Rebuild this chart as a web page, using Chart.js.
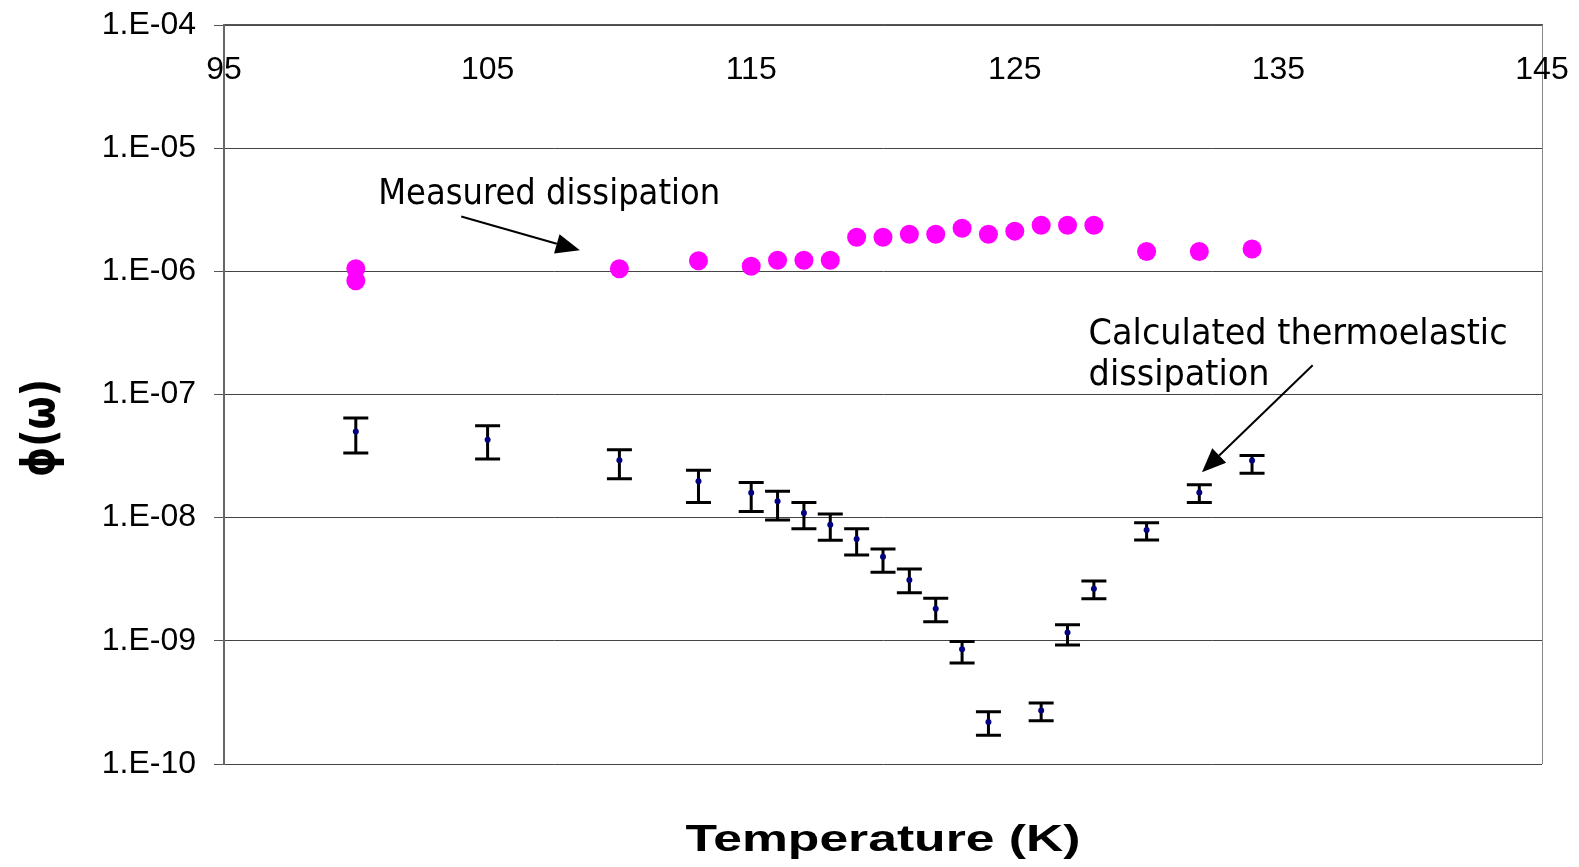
<!DOCTYPE html>
<html lang="en">
<head>
  <meta charset="UTF-8" />
  <title>Dissipation vs Temperature</title>
  <script src="https://cdn.jsdelivr.net/npm/chart.js"></script>
  <style>
    html, body { margin: 0; padding: 0; background: #fff; }
    #wrap { width: 1579px; height: 867px; position: relative; }
  </style>
</head>
<body>
  <div id="wrap"><canvas id="chart"></canvas></div>

  <script>
    // measured dissipation (magenta dots)
    const measuredT   = [100, 100, 110, 113, 115, 116, 117, 118, 119, 120, 121, 122, 123, 124, 125, 126, 127, 128, 130, 132, 134];
    const measuredPhi = [1.05e-6, 8.4e-7, 1.05e-6, 1.22e-6, 1.10e-6, 1.23e-6, 1.23e-6, 1.23e-6, 1.89e-6, 1.89e-6,
                         2.0e-6, 2.0e-6, 2.24e-6, 2.0e-6, 2.12e-6, 2.37e-6, 2.37e-6, 2.37e-6, 1.45e-6, 1.45e-6, 1.52e-6];

    // calculated thermoelastic dissipation with error bar ends
    const calcT    = [100, 105, 110, 113, 115, 116, 117, 118, 119, 120, 121, 122, 123, 124, 126, 127, 128, 130, 132, 134];
    const calcPhi  = [5.0e-8, 4.3e-8, 2.92e-8, 1.98e-8, 1.59e-8, 1.36e-8, 1.09e-8, 8.75e-9, 6.71e-9, 4.82e-9,
                      3.12e-9, 1.82e-9, 8.55e-10, 2.19e-10, 2.72e-10, 1.17e-9, 2.65e-9, 7.94e-9, 1.6e-8, 2.91e-8];
    const calcHigh = [6.43e-8, 5.57e-8, 3.56e-8, 2.43e-8, 1.93e-8, 1.64e-8, 1.33e-8, 1.07e-8, 8.13e-9, 5.56e-9,
                      3.83e-9, 2.22e-9, 9.86e-10, 2.65e-10, 3.13e-10, 1.35e-9, 3.06e-9, 9.1e-9, 1.85e-8, 3.2e-8];
    const calcLow  = [3.35e-8, 3.0e-8, 2.07e-8, 1.33e-8, 1.12e-8, 9.57e-9, 8.13e-9, 6.55e-9, 4.98e-9, 3.6e-9,
                      2.46e-9, 1.43e-9, 6.62e-10, 1.71e-10, 2.24e-10, 9.23e-10, 2.2e-9, 6.58e-9, 1.33e-8, 2.29e-8];

    const xTicks = [95, 105, 115, 125, 135, 145];
    const yTicks = [1e-10, 1e-9, 1e-8, 1e-7, 1e-6, 1e-5, 1e-4];
    const yTickLabels = ['1.E-10', '1.E-09', '1.E-08', '1.E-07', '1.E-06', '1.E-05', '1.E-04'];

    // annotations, in data units: text anchor (T, phi) and arrow start/tip
    const noteMeasured = { lines: ['Measured dissipation'], t: 100.85, phi: [3.55e-6], width: 342,
                           from: [104.0, 2.79e-6], to: [108.5, 1.48e-6] };
    const noteCalc = { lines: ['Calculated thermoelastic', 'dissipation'], t: 127.8, phi: [2.55e-7, 1.19e-7], width: 419,
                       from: [136.3, 1.73e-7], to: [132.1, 2.34e-8] };

    const SANS = '"Liberation Sans", Arial, sans-serif';
    Chart.defaults.font.family = SANS;
    Chart.defaults.color = '#000';

    function drawArrow(ctx, x1, y1, x2, y2) {
      const ang = Math.atan2(y2 - y1, x2 - x1);
      const head = 24, half = 10;
      const bx = x2 - head * Math.cos(ang), by = y2 - head * Math.sin(ang);
      ctx.strokeStyle = '#000';
      ctx.lineWidth = 2;
      ctx.beginPath();
      ctx.moveTo(x1, y1);
      ctx.lineTo(bx, by);
      ctx.stroke();
      ctx.fillStyle = '#000';
      ctx.beginPath();
      ctx.moveTo(x2, y2);
      ctx.lineTo(bx + half * Math.sin(ang), by - half * Math.cos(ang));
      ctx.lineTo(bx - half * Math.sin(ang), by + half * Math.cos(ang));
      ctx.closePath();
      ctx.fill();
    }

    function drawNote(ctx, xs, ys, note) {
      ctx.save();
      ctx.font = '36px "DejaVu Sans", sans-serif';
      ctx.fillStyle = '#000';
      ctx.textAlign = 'left';
      ctx.textBaseline = 'alphabetic';
      const s = note.width / ctx.measureText(note.lines[0]).width;
      const x = xs.getPixelForValue(note.t);
      note.lines.forEach((line, i) => {
        ctx.save();
        ctx.translate(x, ys.getPixelForValue(note.phi[i]));
        ctx.scale(s, 1);
        ctx.fillText(line, 0, 0);
        ctx.restore();
      });
      drawArrow(ctx, xs.getPixelForValue(note.from[0]), ys.getPixelForValue(note.from[1]),
                     xs.getPixelForValue(note.to[0]), ys.getPixelForValue(note.to[1]));
      ctx.restore();
    }

    const extras = {
      id: 'extras',
      beforeDatasetsDraw(chart) {
        const ctx = chart.ctx, xs = chart.scales.x, ys = chart.scales.y;
        ctx.save();
        ctx.strokeStyle = '#000';
        ctx.lineWidth = 3;
        calcT.forEach((t, i) => {
          const x = xs.getPixelForValue(t);
          const yh = ys.getPixelForValue(calcHigh[i]);
          const yl = ys.getPixelForValue(calcLow[i]);
          ctx.beginPath();
          ctx.moveTo(x, yh); ctx.lineTo(x, yl);
          ctx.moveTo(x - 12.5, yh); ctx.lineTo(x + 12.5, yh);
          ctx.moveTo(x - 12.5, yl); ctx.lineTo(x + 12.5, yl);
          ctx.stroke();
        });
        ctx.restore();
      },
      afterDraw(chart) {
        const ctx = chart.ctx, xs = chart.scales.x, ys = chart.scales.y, a = chart.chartArea;
        ctx.save();
        // right frame line
        ctx.strokeStyle = '#888';
        ctx.lineWidth = 1;
        ctx.beginPath();
        ctx.moveTo(a.right + 0.5, a.top);
        ctx.lineTo(a.right + 0.5, a.bottom);
        ctx.stroke();

        // x tick labels sit inside the plot, under the top axis
        ctx.fillStyle = '#000';
        ctx.font = '32px ' + SANS;
        ctx.textAlign = 'center';
        ctx.textBaseline = 'middle';
        xTicks.forEach(v => ctx.fillText(String(v), xs.getPixelForValue(v), a.top + 45));

        // x axis title
        ctx.font = 'bold 37px ' + SANS;
        ctx.textBaseline = 'alphabetic';
        let s = 395 / ctx.measureText('Temperature (K)').width;
        ctx.save();
        ctx.translate(883, 851);
        ctx.scale(s, 1);
        ctx.fillText('Temperature (K)', 0, 0);
        ctx.restore();

        // y axis title
        ctx.font = 'bold 46px "DejaVu Sans", ' + SANS;
        ctx.textBaseline = 'middle';
        s = 98 / ctx.measureText('ϕ(ω)').width;
        ctx.save();
        ctx.translate(42, 428);
        ctx.rotate(-Math.PI / 2);
        ctx.scale(s, 1);
        ctx.fillText('ϕ(ω)', 0, 0);
        ctx.restore();
        ctx.restore();

        drawNote(ctx, xs, ys, noteMeasured);
        drawNote(ctx, xs, ys, noteCalc);
      }
    };

    new Chart(document.getElementById('chart'), {
      type: 'scatter',
      data: {
        datasets: [
          {
            label: 'Measured dissipation',
            data: measuredT.map((t, i) => ({ x: t, y: measuredPhi[i] })),
            pointStyle: 'circle',
            pointRadius: 9.5,
            backgroundColor: '#FF00FF',
            borderColor: '#FF00FF',
            borderWidth: 0
          },
          {
            label: 'Calculated thermoelastic dissipation',
            data: calcT.map((t, i) => ({ x: t, y: calcPhi[i] })),
            pointStyle: 'circle',
            pointRadius: 3,
            backgroundColor: '#000080',
            borderColor: '#000080',
            borderWidth: 0
          }
        ]
      },
      options: {
        responsive: true,
        maintainAspectRatio: false,
        animation: false,
        layout: { padding: { left: 0, top: 0, right: 37, bottom: 103 } },
        plugins: {
          legend: { display: false },
          tooltip: { enabled: false }
        },
        scales: {
          x: {
            type: 'linear',
            position: 'top',
            min: 95,
            max: 145,
            ticks: { display: false, stepSize: 10 },
            grid: { display: false },
            border: { display: true, color: '#555', width: 1.5 },
            afterFit(scale) { scale.height = 25; scale.paddingLeft = 0; scale.paddingRight = 0; }
          },
          y: {
            type: 'logarithmic',
            position: 'left',
            min: 1e-10,
            max: 1e-4,
            afterBuildTicks(scale) { scale.ticks = yTicks.map(v => ({ value: v })); },
            ticks: {
              font: { size: 32 },
              color: '#000',
              padding: 18,
              callback: (v) => yTickLabels[yTicks.findIndex(t => Math.abs(Math.log10(t) - Math.log10(v)) < 1e-6)]
            },
            grid: { color: '#444', lineWidth: 1, tickLength: 10, tickColor: '#555' },
            border: { display: true, color: '#666', width: 2 },
            afterFit(scale) { scale.width = 224; scale.paddingTop = 0; scale.paddingBottom = 0; }
          }
        }
      },
      plugins: [extras]
    });
  </script>
</body>
</html>
